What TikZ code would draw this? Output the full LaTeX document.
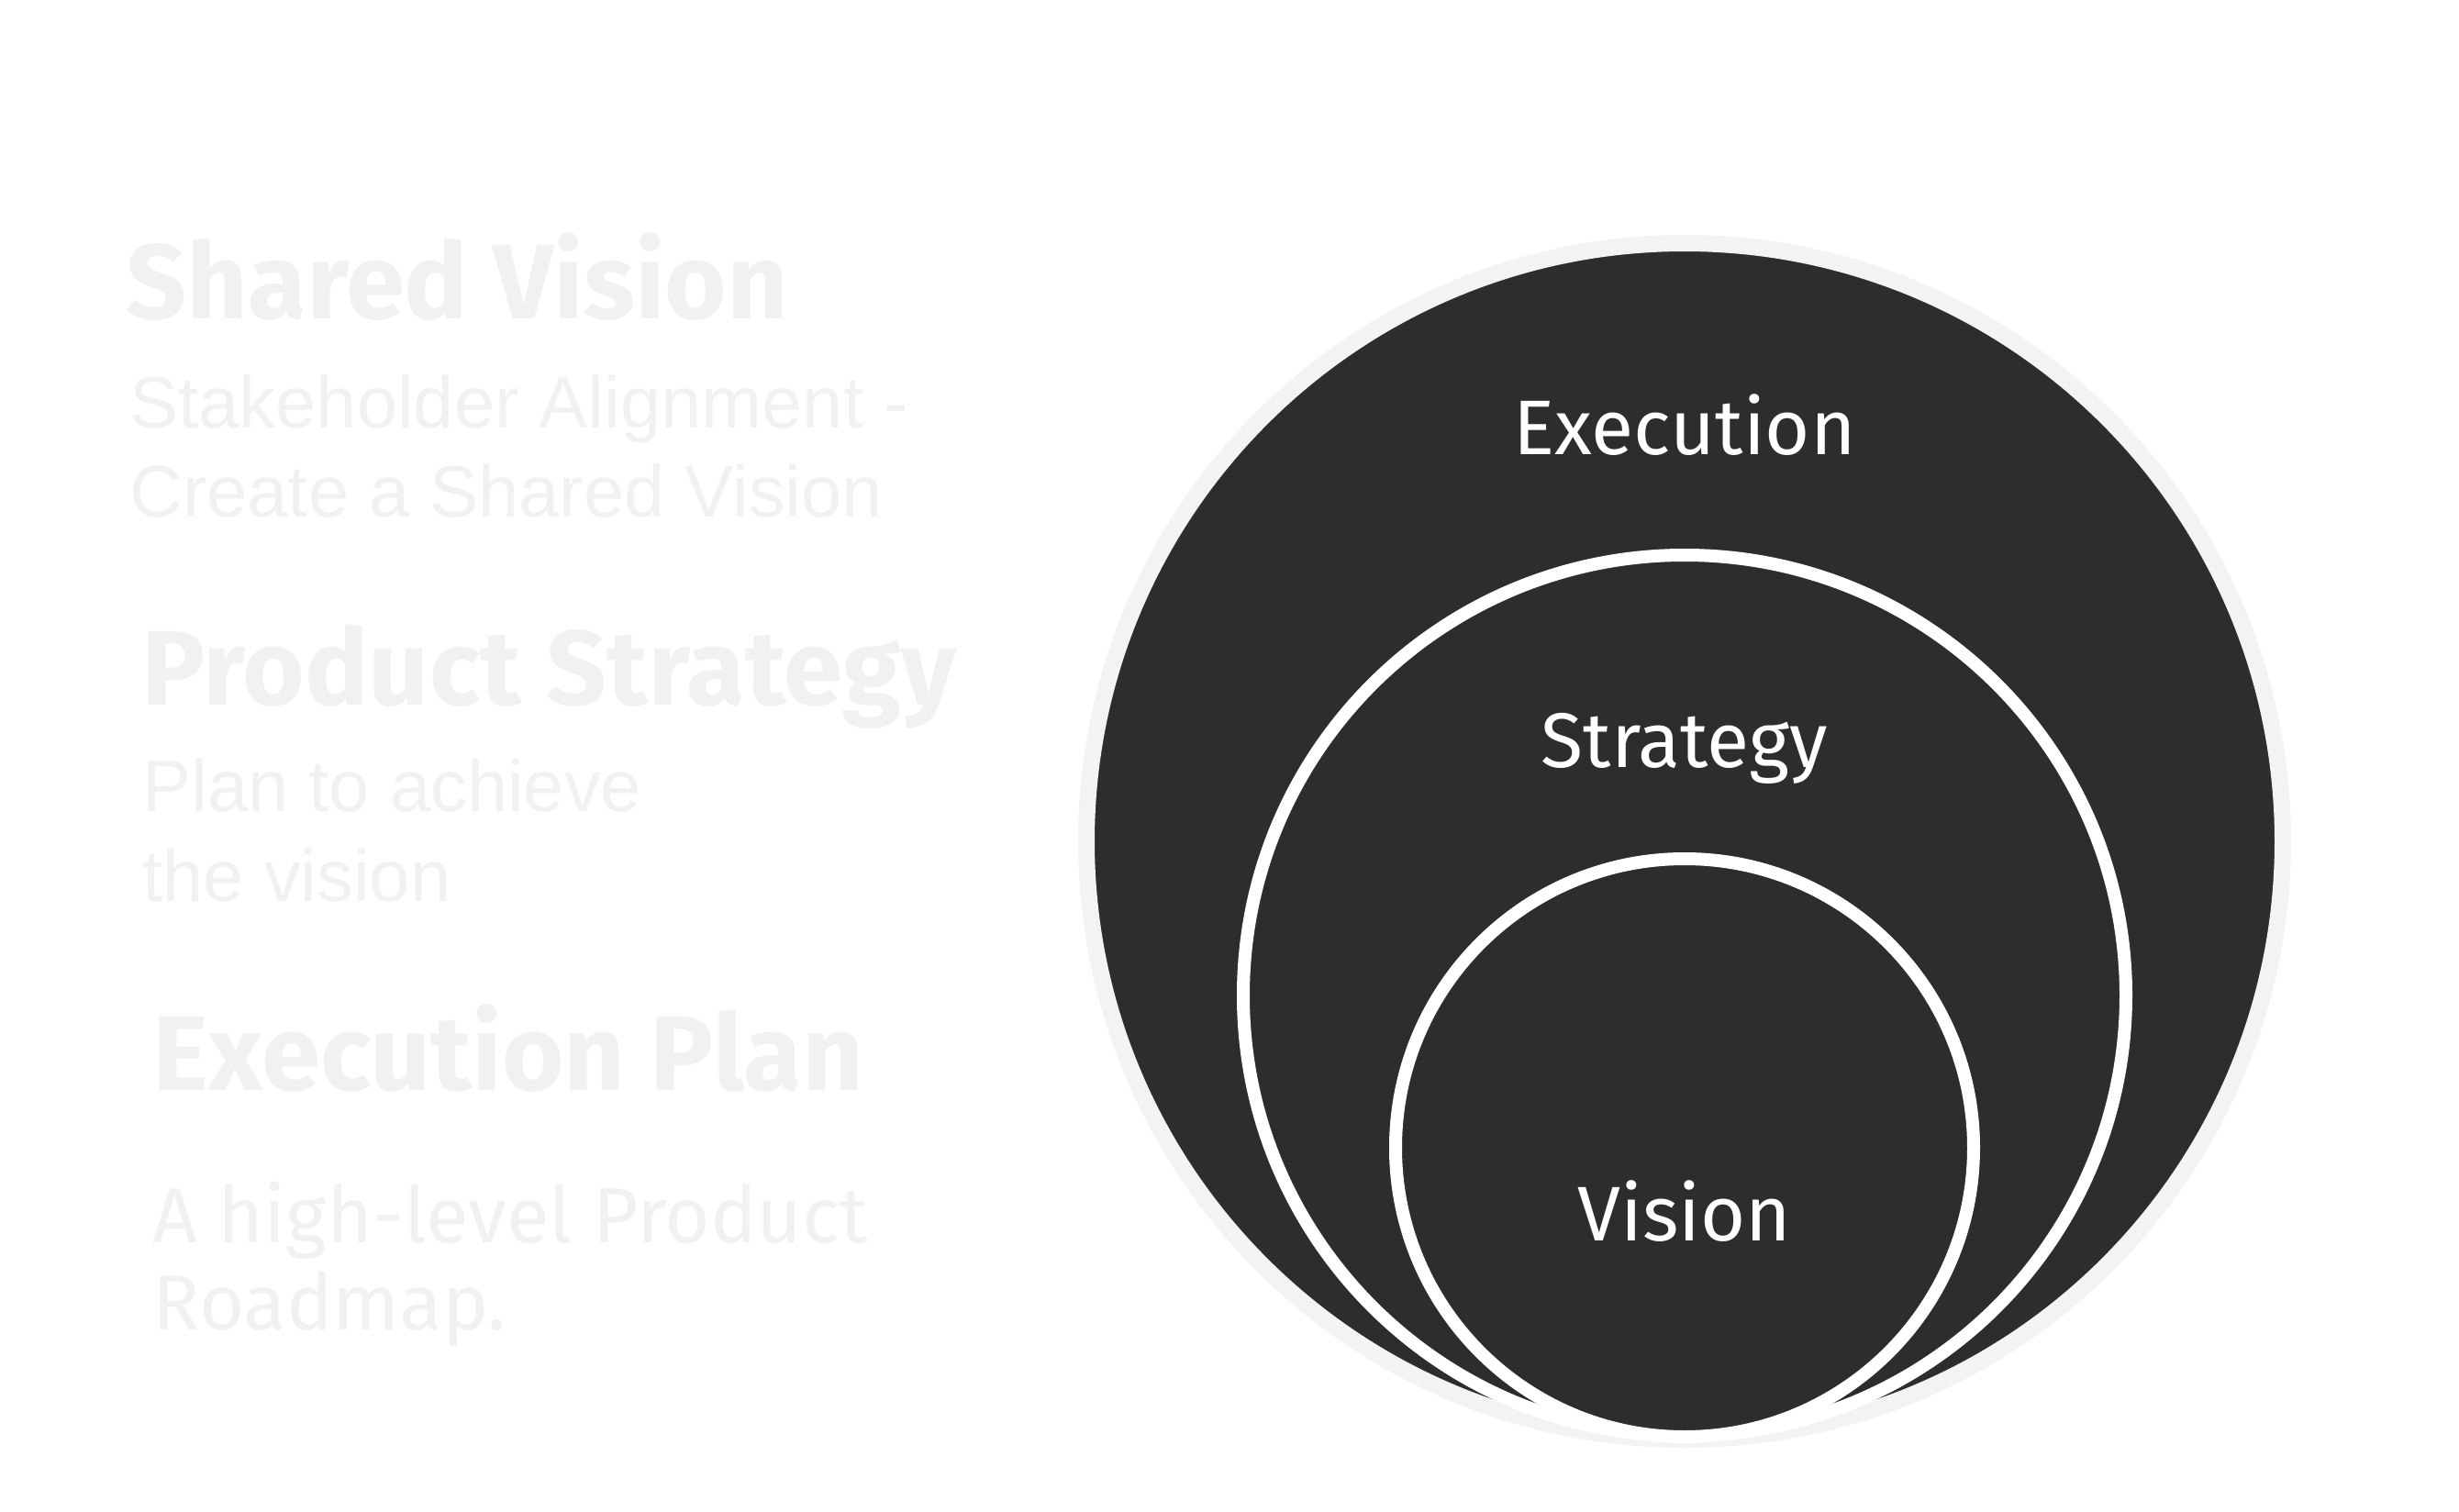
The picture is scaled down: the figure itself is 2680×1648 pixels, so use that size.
\documentclass[tikz,border=0pt]{standalone}
\usepackage{fontspec}
\setmainfont{Liberation Sans}
\newfontfamily\handfont{Fira Sans}
\definecolor{ink}{HTML}{2D2D2D}
\definecolor{faint}{HTML}{F1F1F1}
\definecolor{rim}{HTML}{F3F3F3}
\tikzset{
  head/.style={anchor=base west, text=faint, font=\handfont\bfseries\fontsize{32.9}{36}\selectfont, inner sep=0pt},
  body/.style={anchor=base west, text=faint, font=\fontsize{22.6}{28}\selectfont, inner sep=0pt},
  note/.style={anchor=base west, text=faint, font=\handfont\fontsize{24.2}{28}\selectfont, inner sep=0pt},
  lab/.style={anchor=base, text=white, font=\handfont\fontsize{24}{28}\selectfont, inner sep=0pt}
}
\begin{document}
\begin{tikzpicture}[x=0.01cm, y=-0.01cm, line join=round, line cap=round]
	\def\cx{1836} % centre line of the rings
	\useasboundingbox (0,0) rectangle (2680,1648);
	% left column
	\node[head] (hShared) at (137,347) {Shared Vision};
	\node[body] (tShared1) at (141,466) {Stakeholder Alignment -};
	\node[body] (tShared2) at (141,563) {Create a Shared Vision};
	\node[head] (hStrat) at (154,768) {Product Strategy};
	\node[body] (tStrat1) at (155,884) {Plan to achieve};
	\node[body] (tStrat2) at (155,982) {the vision};
	\node[head] (hExec) at (166,1188) {Execution Plan};
	\node[note] (tExec1) at (166,1354) {A high-level Product};
	\node[note] (tExec2) at (166,1449) {Roadmap.};
	% rings
	\draw[rim, fill=ink, line width=1.8mm] (\cx,917) circle (652);
	\draw[white, fill=ink, line width=1.4mm] (\cx,1085) ellipse (481 and 480);
	\draw[white, fill=ink, line width=1.4mm] (\cx,1251) ellipse (315 and 315);
	\node[lab] (lExec) at (\cx,495) {Execution};
	\node[lab] (lStrat) at (\cx,836) {Strategy};
	\node[lab] (lVis) at (\cx,1352) {Vision};
\end{tikzpicture}
\end{document}
